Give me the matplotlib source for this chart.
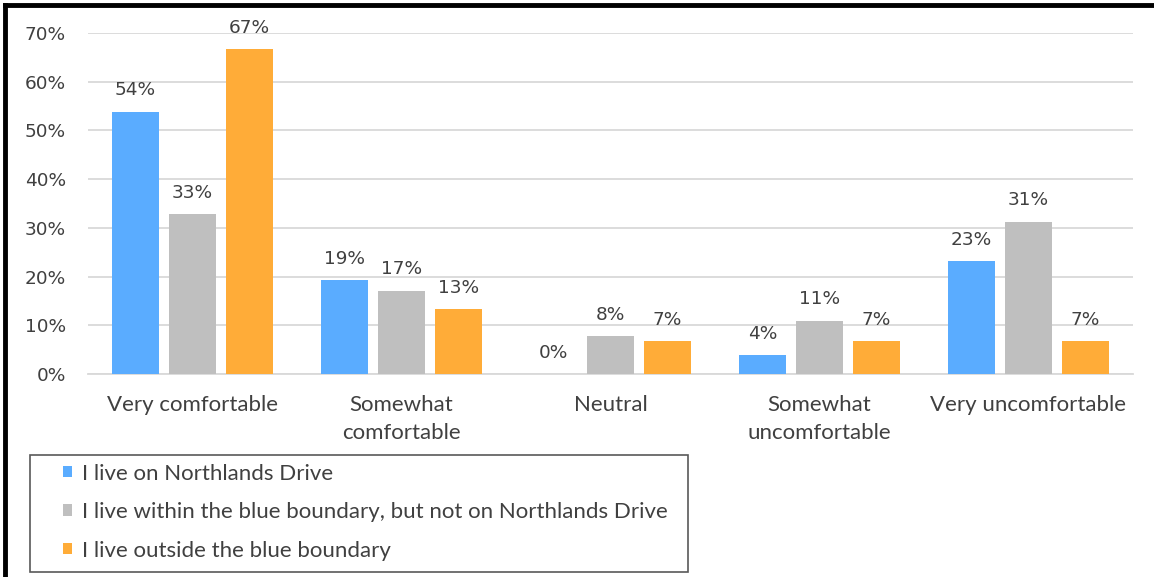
import matplotlib
matplotlib.use("Agg")
import matplotlib.pyplot as plt
import numpy as np
from matplotlib.lines import Line2D
from matplotlib.patches import Rectangle

categories = ["Very comfortable", "Somewhat\ncomfortable", "Neutral", "Somewhat\nuncomfortable", "Very uncomfortable"]
series_names = ["I live on Northlands Drive",
                "I live within the blue boundary, but not on Northlands Drive",
                "I live outside the blue boundary"]
northlands = [53.8, 19.2, 0.0, 3.8, 23.1]
within = [32.8, 17.1, 7.7, 10.9, 31.3]
outside = [66.7, 13.3, 6.7, 6.7, 6.7]
labels_n = ["54%", "19%", "0%", "4%", "23%"]
labels_w = ["33%", "17%", "8%", "11%", "31%"]
labels_o = ["67%", "13%", "7%", "7%", "7%"]
colors = ["#5aacff", "#bfbfbf", "#ffac38"]

W, H = 1154, 577
fig = plt.figure(figsize=(W/100, H/100), dpi=100)
ax = fig.add_axes([88/W, 1-374/H, (1133-88)/W, (374-33)/H])

x = np.arange(len(categories))
bw = 0.225
step = 0.273
txtc = "#404040"
for i, (vals, labs, c) in enumerate(zip([northlands, within, outside],
                                        [labels_n, labels_w, labels_o], colors)):
    pos = x + (i-1)*step
    ax.bar(pos, vals, width=bw, color=c, label=series_names[i], zorder=3)
    for p, v, l in zip(pos, vals, labs):
        ax.annotate(l, (p, v), xytext=(0, 9), textcoords="offset points",
                    ha="center", va="bottom", fontsize=13.3, color=txtc,
                    fontfamily="DejaVu Sans")

ax.set_xlim(-0.5, len(categories)-0.5)
ax.set_ylim(0, 70)
ax.set_yticks(np.arange(0, 71, 10))
ax.set_yticklabels([f"{v}%" for v in range(0, 71, 10)], fontsize=13.3, color=txtc,
                   fontfamily="DejaVu Sans")
ax.set_xticks(x)
ax.set_xticklabels(categories, fontsize=16, color=txtc, fontfamily="Lato",
                   linespacing=1.5)
ax.tick_params(axis="both", length=0)
ax.tick_params(axis="x", pad=15)
ax.tick_params(axis="y", pad=16)
ax.grid(axis="y", color="#d9d9d9", linewidth=1.3, zorder=0)
for s in ["top", "right", "left"]:
    ax.spines[s].set_visible(False)
ax.spines["bottom"].set_color("#d9d9d9")
ax.spines["bottom"].set_linewidth(1.3)

# legend box drawn separately
fig.add_artist(Rectangle((30/W, 1-572/H), (688-30)/W, (572-455)/H,
                         transform=fig.transFigure, facecolor="white",
                         edgecolor="#595959", linewidth=1.2, zorder=1))
leg = fig.legend(loc="upper left", bbox_to_anchor=(56/W, 1-457/H),
                 prop={"family": "Lato", "size": 16},
                 handlelength=0.42, handleheight=0.42, handletextpad=0.45,
                 labelspacing=0.83, borderpad=0.3, borderaxespad=0,
                 frameon=False)
leg.set_zorder(2)
for t in leg.get_texts():
    t.set_color(txtc)

# black frame lines at top and left
fig.add_artist(Line2D([5/W, 1], [1-5/H, 1-5/H], color="black", linewidth=3.5,
                      transform=fig.transFigure))
fig.add_artist(Line2D([5/W, 5/W], [0, 1-5/H], color="black", linewidth=3.5,
                      transform=fig.transFigure))

fig.savefig("out.png", dpi=100)
